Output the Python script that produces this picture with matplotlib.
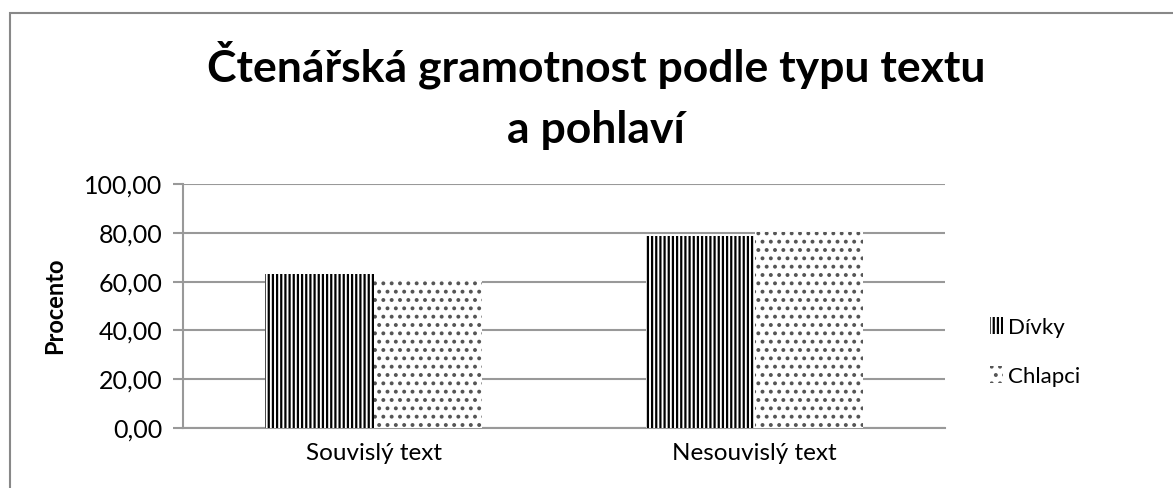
import matplotlib
matplotlib.use("Agg")
import matplotlib.pyplot as plt
import numpy as np
from matplotlib.patches import Rectangle

plt.rcParams['font.family'] = ['Lato', 'DejaVu Sans']
plt.rcParams['hatch.linewidth'] = 1.6

categories = ["Souvislý text", "Nesouvislý text"]
series_names = ["Dívky", "Chlapci"]
divky = [63.2, 78.7]
chlapci = [60.3, 80.5]
yticks = [0, 20, 40, 60, 80, 100]
yticklabels = ["0,00", "20,00", "40,00", "60,00", "80,00", "100,00"]
title_lines = ["Čtenářská gramotnost podle typu textu", "a pohlaví"]

W, H = 1173, 488
fig = plt.figure(figsize=(W/100, H/100), dpi=100)
fig.patch.set_facecolor('white')

# outer border
fig.patches.append(Rectangle((10/W, -0.1), 1.2, (H-13)/H + 0.1, transform=fig.transFigure,
                             fill=False, edgecolor='#888888', linewidth=1.5))

ax = fig.add_axes([183/W, 1-427.7/H, (945-183)/W, (427.7-184.3)/H])
x = np.arange(len(categories))
bw = 0.286
b1 = ax.bar(x - bw/2, divky, bw, facecolor='white', edgecolor='black', hatch='||||',
            linewidth=0, label=series_names[0], zorder=3)
b2 = ax.bar(x + bw/2, chlapci, bw, facecolor='white', edgecolor='#555555', hatch='..',
            linewidth=0, label=series_names[1], zorder=3)

ax.set_xlim(-0.5, 1.5)
ax.set_ylim(0, 100)
ax.set_yticks(yticks)
ax.set_yticklabels(yticklabels, fontsize=18)
ax.set_xticks(x)
ax.set_xticklabels(categories, fontsize=17.5)
ax.tick_params(axis='x', length=0, pad=11)
ax.tick_params(axis='y', length=7, color='#999999', width=1.5, pad=8)
ax.yaxis.grid(True, color='#999999', linewidth=1.5, zorder=0)
for s in ['top', 'right']:
    ax.spines[s].set_visible(False)
ax.spines['left'].set_color('#999999')
ax.spines['left'].set_linewidth(1.5)
ax.spines['bottom'].set_color('#999999')
ax.spines['bottom'].set_linewidth(1.5)
ax.set_ylabel("Procento", fontsize=17, fontweight='bold', labelpad=13)

fig.text(596/W, 1-65/H, title_lines[0], ha='center', va='center',
         fontsize=32, fontweight='bold')
fig.text(596/W, 1-130/H, title_lines[1], ha='center', va='center',
         fontsize=32, fontweight='bold')

leg = fig.legend(handles=[b1, b2], labels=series_names, loc='center left',
                 bbox_to_anchor=(970/W, 1-352/H), frameon=False, fontsize=16,
                 handlelength=0.6, handleheight=0.8, handletextpad=0.2, labelspacing=1.3)

fig.savefig("out.png", dpi=100, facecolor='white')
